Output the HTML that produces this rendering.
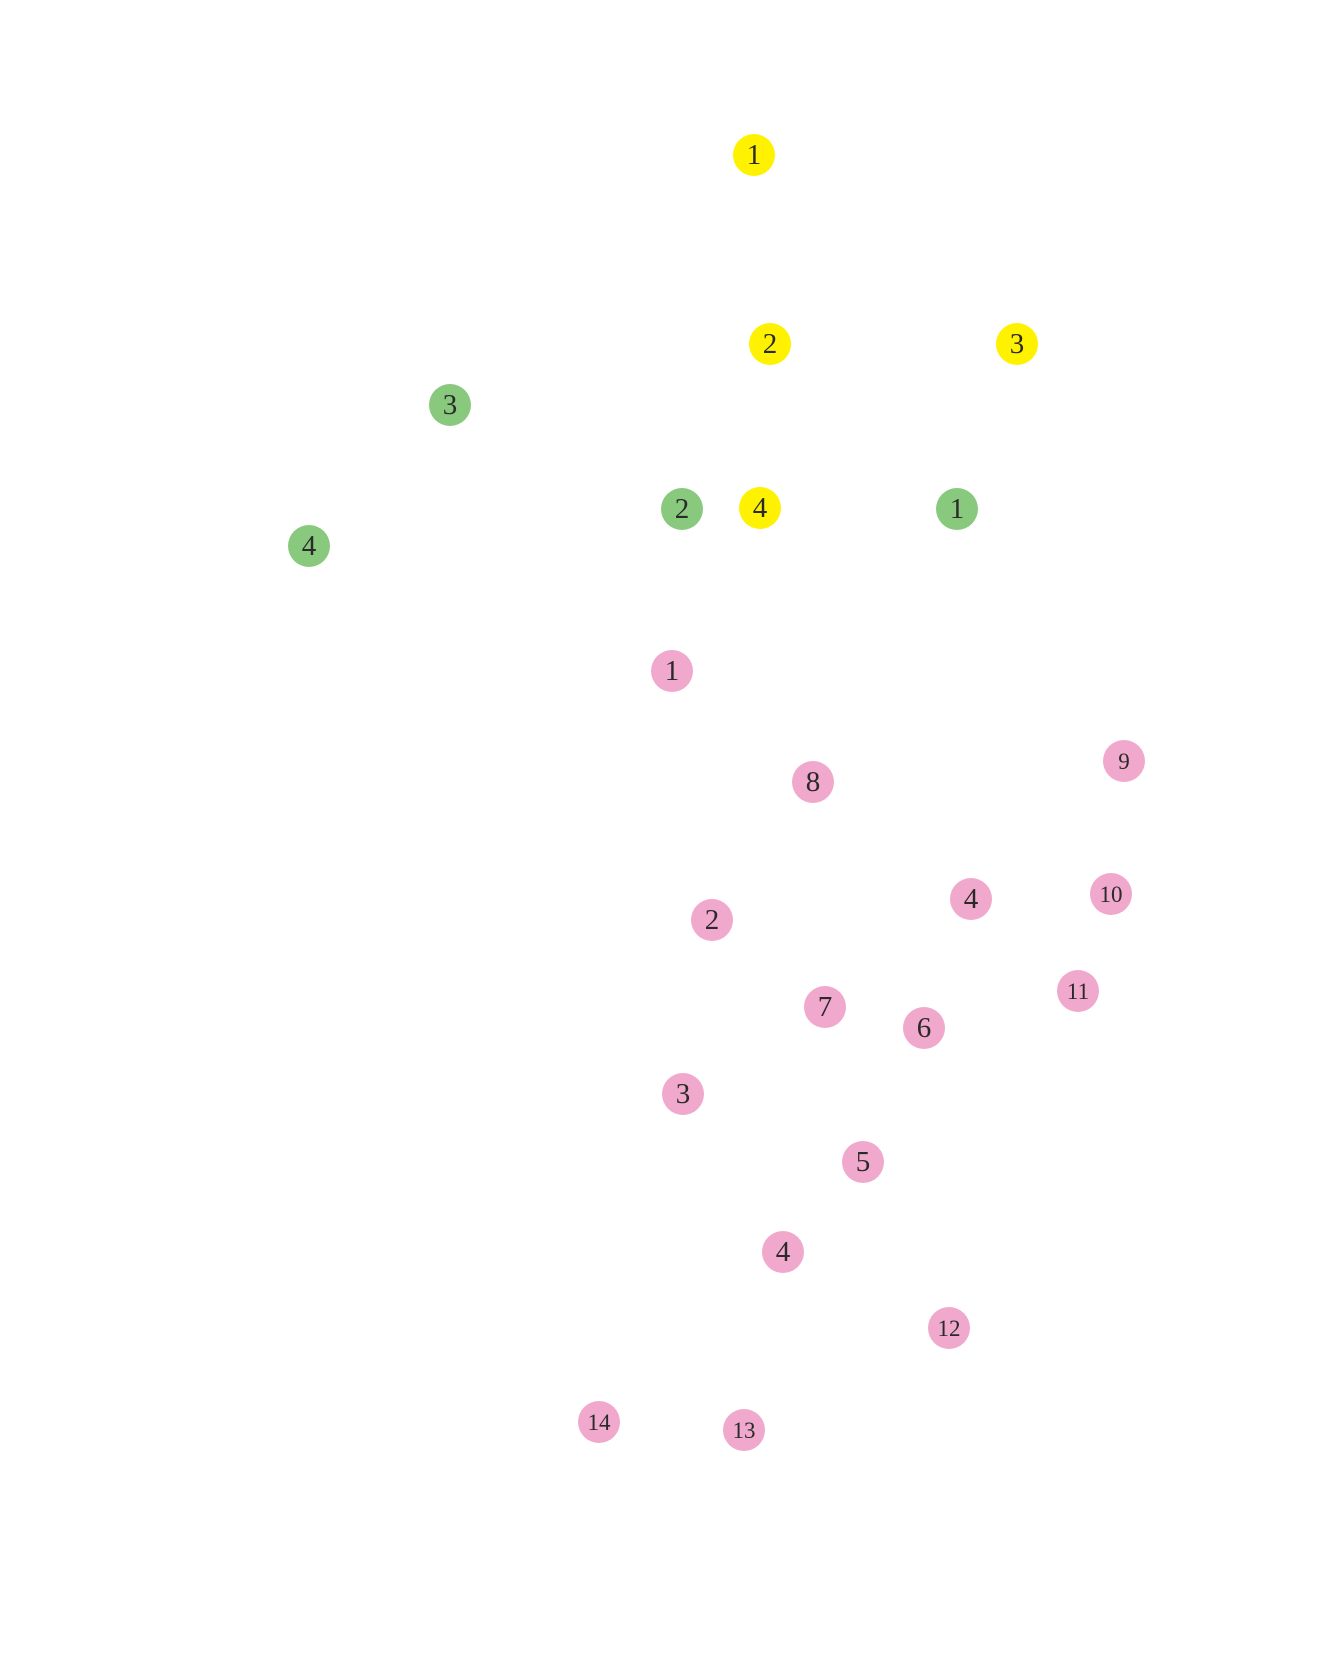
<!DOCTYPE html>
<html><head><meta charset="utf-8"><style>
html,body{margin:0;padding:0;background:#fff;}
body{width:1320px;height:1656px;position:relative;overflow:hidden;}
.n{position:absolute;width:42px;height:42px;border-radius:50%;margin:-21px 0 0 -21px;
display:flex;align-items:center;justify-content:center;font-family:"Liberation Serif",serif;
color:#2a2a2a;font-size:29px;line-height:1;}
.y{background:#fff200}.g{background:#88c97e}.p{background:#f0a8cc}
.s{font-size:23px}
</style></head><body>
<div class="n y" style="left:754px;top:155px">1</div>
<div class="n y" style="left:770px;top:344px">2</div>
<div class="n y" style="left:1017px;top:344px">3</div>
<div class="n y" style="left:760px;top:508px">4</div>
<div class="n g" style="left:450px;top:405px">3</div>
<div class="n g" style="left:682px;top:509px">2</div>
<div class="n g" style="left:957px;top:509px">1</div>
<div class="n g" style="left:309px;top:546px">4</div>
<div class="n p" style="left:672px;top:671px">1</div>
<div class="n p" style="left:813px;top:782px">8</div>
<div class="n p s" style="left:1124px;top:761px">9</div>
<div class="n p" style="left:712px;top:920px">2</div>
<div class="n p" style="left:971px;top:899px">4</div>
<div class="n p s" style="left:1111px;top:894px">10</div>
<div class="n p s" style="left:1078px;top:991px">11</div>
<div class="n p" style="left:825px;top:1007px">7</div>
<div class="n p" style="left:924px;top:1028px">6</div>
<div class="n p" style="left:683px;top:1094px">3</div>
<div class="n p" style="left:863px;top:1162px">5</div>
<div class="n p" style="left:783px;top:1252px">4</div>
<div class="n p s" style="left:949px;top:1328px">12</div>
<div class="n p s" style="left:599px;top:1422px">14</div>
<div class="n p s" style="left:744px;top:1430px">13</div>
</body></html>
